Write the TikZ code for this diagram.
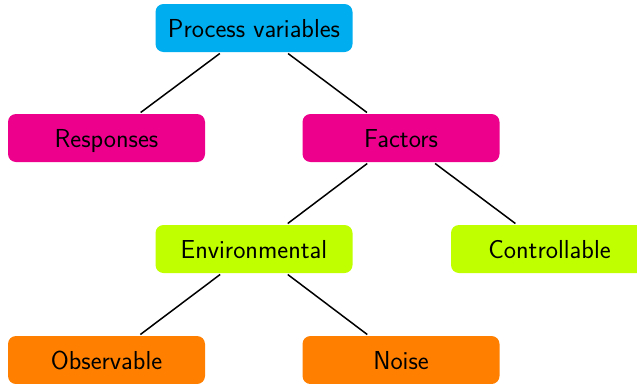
\documentclass[tikz,border=0pt]{standalone}
\usepackage{fontspec}
\begin{document}
\begin{tikzpicture}[x=1pt,y=-1pt,
  box/.style={rounded corners=8pt, minimum width=197pt, minimum height=48pt, inner sep=0pt, outer sep=1.5pt,
    font=\sffamily\fontsize{26}{30}\selectfont, text=black, text height=22pt, text depth=2.5pt},
  conn/.style={line width=1.5pt, black}]
\definecolor{ccyan}{RGB}{0,174,239}
\definecolor{cmag}{RGB}{236,0,140}
\definecolor{clime}{RGB}{191,255,0}
\definecolor{corange}{RGB}{255,128,0}
\useasboundingbox (0,0) rectangle (637,383);
\begin{scope}
\clip (0,0) rectangle (637,383);
\node[box, fill=ccyan] (pv) at (254,28) {Process variables};
\node[box, fill=cmag] (resp) at (106.5,138) {Responses};
\node[box, fill=cmag] (fact) at (401,138) {Factors};
\node[box, fill=clime] (env) at (254,249) {Environmental};
\node[box, fill=clime] (ctrl) at (549.5,249) {Controllable};
\node[box, fill=corange] (obs) at (106.5,360) {Observable};
\node[box, fill=corange] (noise) at (401,360) {Noise};
\draw[conn] (pv) -- (resp);
\draw[conn] (pv) -- (fact);
\draw[conn] (fact) -- (env);
\draw[conn] (fact) -- (ctrl);
\draw[conn] (env) -- (obs);
\draw[conn] (env) -- (noise);
\end{scope}
\end{tikzpicture}
\end{document}
